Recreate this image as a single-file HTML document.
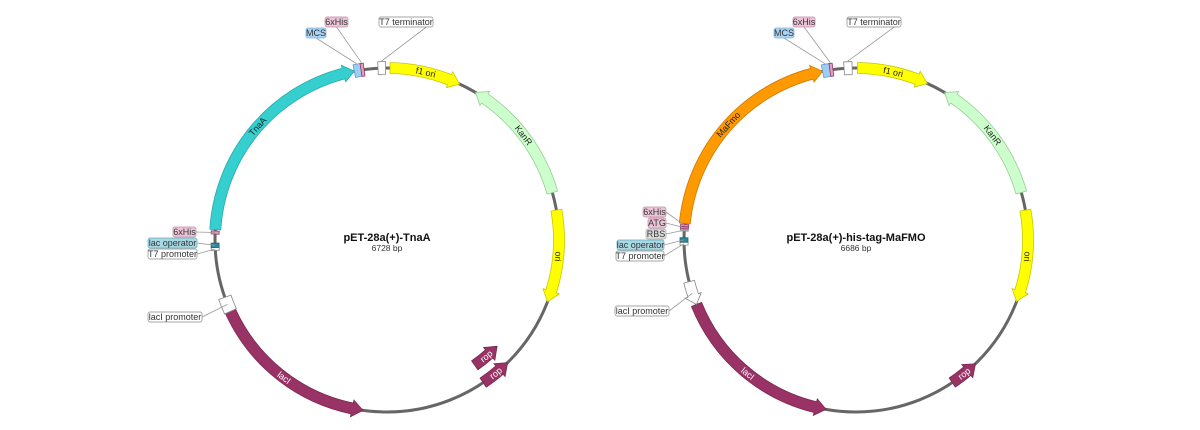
<!DOCTYPE html>
<html><head><meta charset="utf-8"><style>
html,body{margin:0;padding:0;background:#fff;}
svg{display:block;font-family:"Liberation Sans",sans-serif;}
</style></head><body>
<svg id="map" width="1200" height="430" viewBox="0 0 1200 430"></svg>
<script>
// ---- data: plasmid 1 ----
const p1Name = "pET-28a(+)-TnaA";
const p1Length = 6728;
const p1Features = ["TnaA","MCS","6xHis","T7 terminator","f1 ori","KanR","ori","rop","rop","lacI","lacI promoter","T7 promoter","lac operator","6xHis"];
const p1Starts =   [5111,6523,6566,6672,19,579,1495,2532,2504,3514,4588,4981,4999,5083];
const p1Ends =     [6523,6566,6585,6719,467,1383,2075,2729,2710,4588,4682,4999,5027,5102];
const p1Strand =   [1,0,0,0,1,-1,1,-1,-1,-1,0,0,0,0];
// ---- data: plasmid 2 ----
const p2Name = "pET-28a(+)-his-tag-MaFMO";
const p2Length = 6686;
const p2Features = ["MaFmo","MCS","6xHis","T7 terminator","f1 ori","KanR","ori","rop","lacI","lacI promoter","T7 promoter","lac operator","RBS","ATG","6xHis"];
const p2Starts =   [5117,6478,6524,6612,9,576,1486,2526,3529,4606,4983,5002,5070,5085,5098];
const p2Ends =     [6478,6524,6543,6662,455,1374,2061,2711,4606,4754,5000,5029,5081,5096,5111];
const p2Strand =   [1,0,0,0,1,-1,1,-1,-1,0,0,0,0,0,0];

const svg=document.getElementById('map');
const NS='http://www.w3.org/2000/svg';
const styleMap={
 "TnaA":["#35cfcf","#2aa8a8","#222"],"MaFmo":["#ff9900","#d07a00","#222"],
 "f1 ori":["#ffff00","#c8c800","#222"],"ori":["#ffff00","#c8c800","#222"],
 "KanR":["#ccffcc","#99cc99","#222"],"lacI":["#993366","#7a2850","#fff"],"rop":["#993366","#7a2850","#fff"],
 "MCS":["#9ccdf2","#6a9cc8"],"6xHis":["#e6a0bf","#993366"],"T7 terminator":["#ffffff","#888"],
 "lacI promoter":["#ffffff","#888"],"T7 promoter":["#ffffff","#888"],"lac operator":["#2a8a9a","#1e6670"],
 "RBS":["#bbbbbb","#888"],"ATG":["#e6a0bf","#993366"]
};
function el(tag,attrs,parent){const e=document.createElementNS(NS,tag);for(const k in attrs)e.setAttribute(k,attrs[k]);(parent||svg).appendChild(e);return e;}
function pt(cx,cy,r,d){const a=d*Math.PI/180;return [cx+r*Math.sin(a),cy-r*Math.cos(a)];}
function arc(cx,cy,r,a,b){const p=pt(cx,cy,r,b);const sw=b>a?1:0;const lg=Math.abs(b-a)>180?1:0;return `A${r},${r} 0 ${lg} ${sw} ${p[0].toFixed(2)},${p[1].toFixed(2)}`;}
function M(p){return `M${p[0].toFixed(2)},${p[1].toFixed(2)}`;}
function L(p){return `L${p[0].toFixed(2)},${p[1].toFixed(2)}`;}

function drawPlasmid(cx,cy,R,name,len,feats,starts,ends,strand,labels){
  const g=el('g',{});
  
  
  const bb=el('circle',{cx,cy,r:R,fill:'none',stroke:'#666',"stroke-width":3},g);
  
  
  const w=5.5,hw=8.5,hl=11;
  const degOf=bp=>bp/len*360;
  feats.forEach((f,i)=>{
    let a=degOf(starts[i]),b=degOf(ends[i]);
    let r=R;
    if(f==="rop" && i===8 && feats.length===14) r=R-19;
    const st=styleMap[f]||["#ccc","#888","#222"];
    const hd=hl/r*180/Math.PI;
    let d;
    const s=strand[i];
    if(s===0){
      const ww=(f==="lac operator"||f==="T7 promoter"||f==="RBS"||f==="ATG"||(f==="6xHis"&&b>250&&b<300))?4:(w+1);
      d=M(pt(cx,cy,r+ww,a))+arc(cx,cy,r+ww,a,b)+L(pt(cx,cy,r-ww,b))+arc(cx,cy,r-ww,b,a)+'Z';
      if(f==="lacI promoter"&&feats.length===15){
        const m=a+(b-a)*0.4;
        d=M(pt(cx,cy,r+w,b))+arc(cx,cy,r+w,b,m)+L(pt(cx,cy,r+hw,m))+L(pt(cx,cy,r,a))+L(pt(cx,cy,r-hw,m))+L(pt(cx,cy,r-w,m))+arc(cx,cy,r-w,m,b)+'Z';
      }
    } else if(s===1){
      const bodyEnd=Math.max(a,b-hd);
      d=M(pt(cx,cy,r+w,a))+arc(cx,cy,r+w,a,bodyEnd)+L(pt(cx,cy,r+hw,bodyEnd))+L(pt(cx,cy,r,b))+L(pt(cx,cy,r-hw,bodyEnd))+L(pt(cx,cy,r-w,bodyEnd))+arc(cx,cy,r-w,bodyEnd,a)+'Z';
    } else {
      const bodyStart=Math.min(b,a+hd);
      d=M(pt(cx,cy,r+w,b))+arc(cx,cy,r+w,b,bodyStart)+L(pt(cx,cy,r+hw,bodyStart))+L(pt(cx,cy,r,a))+L(pt(cx,cy,r-hw,bodyStart))+L(pt(cx,cy,r-w,bodyStart))+arc(cx,cy,r-w,bodyStart,b)+'Z';
    }
    const p=el('path',{d,fill:st[0],stroke:st[1],"stroke-width":0.8},g);
    
    
    if(s!==0){
      const mid=(a+b)/2;const q=pt(cx,cy,r,mid);
      let rot=mid; if(mid>100&&mid<260) rot=mid-180;
      const t=el('text',{x:q[0],y:q[1],"font-size":9,fill:st[2],"text-anchor":"middle","dominant-baseline":"central",transform:`rotate(${rot.toFixed(1)} ${q[0].toFixed(1)} ${q[1].toFixed(1)})`},g);
      t.textContent=f;
      
      
    }
  });
  labels.forEach(lb=>{
    const i=lb[0];const f=feats[i];const st=styleMap[f];
    const mid=degOf((starts[i]+ends[i])/2);
    const q=pt(cx,cy,R+(mid>200&&mid<300?0:7),mid);
    const [x,y,wd]=lb.slice(1);
    const ax=lb[4]==='r'?x+wd:(lb[4]==='b'?x+wd/2:x+wd);
    const ay=lb[4]==='b'?y+10:y+5;
    const ln=el('line',{x1:ax,y1:ay,x2:q[0],y2:q[1],stroke:'#999',"stroke-width":0.8},g);
    
    
    let fill=st[0],stroke=st[1];
    if(f==="lac operator"){fill="#a8d8e4";stroke="#6aaabb";}
    if(f==="RBS"){fill="#dddddd";stroke="#aaa";}
    if(f==="6xHis"||f==="ATG"){fill="#ecc6d8";stroke="#c48aa8";}
    if(f==="MCS"){fill="#a9d4f5";stroke="#7fb2de";}
    const rc=el('rect',{x,y,width:wd,height:10,rx:2,fill,stroke,"stroke-width":0.7},g);
    
    
    const t=el('text',{x:x+wd/2,y:y+8.2,"font-size":9,fill:'#333',"text-anchor":"middle"},g);
    t.textContent=f;
    
    
  });
  const t1=el('text',{x:cx,y:cy+1,"font-size":11,"font-weight":"bold",fill:'#111',"text-anchor":"middle"},g);
  t1.textContent=name;
  
  
  const t2=el('text',{x:cx,y:cy+11,"font-size":8.5,fill:'#333',"text-anchor":"middle"},g);
  t2.textContent=len+" bp";
  
  
}

drawPlasmid(387,240,172,p1Name,p1Length,p1Features,p1Starts,p1Ends,p1Strand,[
  [2,325,17,23,'b'],[1,306,28,20,'b'],[3,379,17,54,'x'],
  [13,173,227,23,'r'],[12,148,238,49,'r'],[11,148,249,49,'r'],[10,148,312,54,'r']
]);
drawPlasmid(856,240,172,p2Name,p2Length,p2Features,p2Starts,p2Ends,p2Strand,[
  [2,793,17,22,'b'],[1,774,28,20,'b'],[3,847,17,54,'x'],
  [14,643,207,23,'r'],[13,648,218,18,'r'],[12,646,229,20,'r'],[11,617,240,47,'r'],[10,616,251,48,'r'],[9,615,306,54,'r']
]);
</script>
</body></html>
